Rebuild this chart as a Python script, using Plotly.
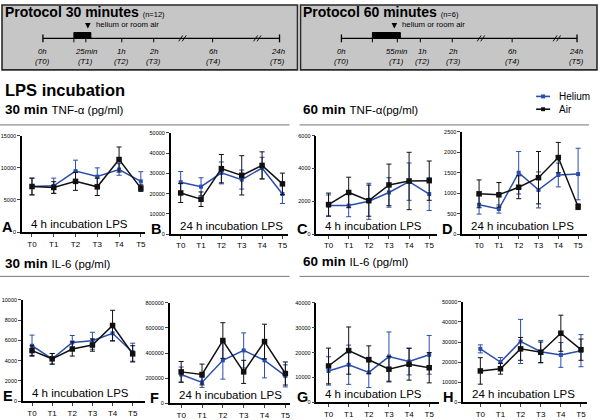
import plotly.graph_objects as go

# ---------------- data ----------------
timepoints = ["T0", "T1", "T2", "T3", "T4", "T5"]

# A: 30 min TNF-a, 4 h incubation
a_helium = [7100, 7200, 9500, 8650, 9750, 7900]
a_helium_err = [1300, 1200, 1700, 1350, 900, 1500]
a_air = [7100, 6950, 7900, 7050, 11300, 6850]
a_air_err = [1300, 900, 1400, 1350, 1950, 500]

# B: 30 min TNF-a, 24 h incubation
b_helium = [25600, 23400, 30200, 26900, 32600, 19800]
b_helium_err = [5300, 4400, 5400, 4700, 5300, 4700]
b_air = [20300, 17200, 32300, 29000, 33900, 24800]
b_air_err = [4700, 3600, 7000, 9700, 6700, 5300]

# C: 60 min TNF-a, 4 h incubation
c_helium = [1740, 1740, 2000, 2540, 3200, 2440]
c_helium_err = [650, 680, 1100, 900, 1140, 1000]
c_air = [1800, 2540, 2040, 3000, 3240, 3260]
c_air_err = [700, 930, 950, 1270, 1750, 1200]

# D: 60 min TNF-a, 24 h incubation
d_helium = [718, 613, 1500, 1080, 1444, 1468]
d_helium_err = [230, 100, 520, 440, 290, 630]
d_air = [984, 960, 1145, 1379, 1871, 669]
d_air_err = [340, 300, 280, 640, 370, 70]

# E: 30 min IL-6, 4 h incubation
e_helium = [5480, 4190, 5810, 5970, 6710, 4840]
e_helium_err = [1050, 530, 680, 840, 770, 890]
e_air = [5000, 4190, 5160, 5550, 7480, 4680]
e_air_err = [480, 520, 700, 610, 1500, 800]

# F: 30 min IL-6, 24 h incubation
f_helium = [229000, 166000, 342000, 421000, 342000, 218000]
f_helium_err = [60000, 40000, 150000, 140000, 140000, 88000]
f_air = [250000, 229000, 500000, 250000, 492000, 237000]
f_air_err = [83000, 83000, 142000, 92000, 138000, 92000]

# G: 60 min IL-6, 4 h incubation
g_helium = [12600, 15100, 12000, 18400, 16400, 19100]
g_helium_err = [5700, 7900, 6100, 9900, 5400, 7800]
g_air = [14600, 20800, 17100, 13300, 15300, 13900]
g_air_err = [7200, 9500, 5600, 5100, 6400, 6100]

# H: 60 min IL-6, 24 h incubation
h_helium = [26600, 20000, 30300, 25200, 23600, 25700]
h_helium_err = [2000, 2300, 11000, 5600, 6200, 8000]
h_air = [15600, 16700, 26600, 24900, 34400, 26200]
h_air_err = [6600, 2700, 5700, 5100, 9000, 5300]

panel_letters = ["A", "B", "C", "D", "E", "F", "G", "H"]
panel_caption = ["4 h incubation LPS", "24 h incubation LPS"] * 4
y_max = [15000, 50000, 6000, 2500, 10000, 800000, 40000, 50000]
y_step = [5000, 10000, 2000, 500, 2000, 200000, 10000, 10000]

series = [
    (a_helium, a_helium_err, a_air, a_air_err),
    (b_helium, b_helium_err, b_air, b_air_err),
    (c_helium, c_helium_err, c_air, c_air_err),
    (d_helium, d_helium_err, d_air, d_air_err),
    (e_helium, e_helium_err, e_air, e_air_err),
    (f_helium, f_helium_err, f_air, f_air_err),
    (g_helium, g_helium_err, g_air, g_air_err),
    (h_helium, h_helium_err, h_air, h_air_err),
]

# ---------------- layout helpers ----------------
W, H = 600, 420
FONT = "Liberation Sans, Arial, Helvetica, sans-serif"
BLUE = "#2a4db0"
BLACK = "#111111"


def px(x):
    return x / W


def py(y):
    return 1 - y / H


# panel boxes in pixels: (x0, x1, ytop, ybottom)
panel_px = [
    (22, 145, 135, 233),
    (171, 288, 132, 235),
    (317, 438, 135, 235),
    (463, 588, 131, 235),
    (23, 145, 302, 405),
    (170, 290, 305, 407),
    (317, 440, 305, 406),
    (464, 588, 304, 406),
]
x_ranges = [
    [-0.46, 5.18], [-0.49, 5.25], [-0.6, 5.4], [-0.85, 5.45],
    [-0.45, 5.6], [-0.55, 5.2], [-0.6, 5.5], [-0.85, 5.3],
]

fig = go.Figure()
layout = dict(
    width=W, height=H,
    margin=dict(l=0, r=0, t=0, b=0),
    paper_bgcolor="white", plot_bgcolor="rgba(0,0,0,0)",
    showlegend=False,
    font=dict(family=FONT, color="black"),
)
annotations = []
shapes = []

xs = list(range(len(timepoints)))
for i, (he, he_err, air, air_err) in enumerate(series):
    k = "" if i == 0 else str(i + 1)
    xa, ya = "x" + k, "y" + k
    fig.add_trace(go.Scatter(
        x=xs, y=he, xaxis=xa, yaxis=ya, mode="lines+markers", name="Helium",
        line=dict(color=BLUE, width=1.5),
        marker=dict(symbol="square", size=4, color=BLUE),
        error_y=dict(type="data", array=he_err, color=BLUE, thickness=1, width=2.5),
        cliponaxis=False,
    ))
    fig.add_trace(go.Scatter(
        x=xs, y=air, xaxis=xa, yaxis=ya, mode="lines+markers", name="Air",
        line=dict(color=BLACK, width=1.5),
        marker=dict(symbol="square", size=5.5, color=BLACK),
        error_y=dict(type="data", array=air_err, color=BLACK, thickness=1, width=2.5),
        cliponaxis=False,
    ))
    x0, x1, yt, yb = panel_px[i]
    layout["xaxis" + k] = dict(
        domain=[px(x0), px(x1)], anchor=ya, range=x_ranges[i],
        tickvals=xs, ticktext=timepoints, ticks="outside", ticklen=3, tickwidth=1,
        showline=True, linewidth=1.6, linecolor="black", showgrid=False, zeroline=False,
        tickfont=dict(size=8, family=FONT), fixedrange=True,
    )
    layout["yaxis" + k] = dict(
        domain=[py(yb), py(yt)], anchor=xa, range=[0, y_max[i]],
        dtick=y_step[i], tick0=0, tickformat="d", ticks="outside", ticklen=3, tickwidth=1,
        showline=True, linewidth=1.6, linecolor="black", showgrid=False, zeroline=False,
        tickfont=dict(size=5.5, family=FONT), fixedrange=True,
    )
    # panel letter
    annotations.append(dict(
        x=px(x0 - 22), y=py(yb - 5), xref="paper", yref="paper", xanchor="left", yanchor="middle",
        text="<b>%s</b>" % panel_letters[i], showarrow=False, font=dict(size=14.5, family=FONT),
    ))
    # caption
    annotations.append(dict(
        x=px(x0 + 7), y=py(yb - 8), xref="paper", yref="paper", xanchor="left", yanchor="middle",
        text=panel_caption[i], showarrow=False, font=dict(size=11.5, family=FONT),
    ))

# ---------------- protocol boxes ----------------
protocols = [
    dict(box=(2, 298), title="Protocol 30 minutes", n="(n=12)", title_x=3,
         line=(43, 280), small=[74, 86, 122, 154, 213], rect=(74, 91), breaks=[183, 258],
         arrow_x=88,
         labels=[("0h", "(T0)", 43), ("25min", "(T1)", 86), ("1h", "(T2)", 122),
                 ("2h", "(T3)", 154), ("6h", "(T4)", 214), ("24h", "(T5)", 278)]),
    dict(box=(301, 598), title="Protocol 60 minutes", n="(n=6)", title_x=302,
         line=(342, 578), small=[373, 398, 421, 453, 513], rect=(373, 401), breaks=[482, 558],
         arrow_x=395,
         labels=[("0h", "(T0)", 342), ("55min", "(T1)", 397), ("1h", "(T2)", 423),
                 ("2h", "(T3)", 454), ("6h", "(T4)", 513), ("24h", "(T5)", 577)]),
]
TL = 36
for p in protocols:
    bx0, bx1 = p["box"]
    shapes.append(dict(type="rect", xref="paper", yref="paper", x0=px(bx0), x1=px(bx1),
                       y0=py(68), y1=py(2), fillcolor="#c6c6c6",
                       line=dict(color="#2a2a2a", width=1.6), layer="below"))
    l0, l1 = p["line"]
    shapes.append(dict(type="line", xref="paper", yref="paper", x0=px(l0), x1=px(l1),
                       y0=py(TL), y1=py(TL), line=dict(color="black", width=1.3)))
    for e in (l0, l1):
        shapes.append(dict(type="line", xref="paper", yref="paper", x0=px(e), x1=px(e),
                           y0=py(32), y1=py(40), line=dict(color="black", width=1.3)))
    for s in p["small"]:
        shapes.append(dict(type="line", xref="paper", yref="paper", x0=px(s), x1=px(s),
                           y0=py(TL), y1=py(40), line=dict(color="black", width=1)))
    r0, r1 = p["rect"]
    shapes.append(dict(type="rect", xref="paper", yref="paper", x0=px(r0), x1=px(r1),
                       y0=py(TL), y1=py(30), fillcolor="black", line=dict(color="black", width=1)))
    for b in p["breaks"]:
        for dx in (-2, 1.5):
            shapes.append(dict(type="line", xref="paper", yref="paper",
                               x0=px(b + dx - 2), x1=px(b + dx + 2), y0=py(39), y1=py(33),
                               line=dict(color="black", width=0.9)))
    annotations.append(dict(
        x=px(p["title_x"]), y=py(9), xref="paper", yref="paper", xanchor="left", yanchor="middle",
        text="<b>%s</b> <span style='font-size:7.5px'>%s</span>" % (p["title"], p["n"]),
        showarrow=False, font=dict(size=14, family=FONT)))
    annotations.append(dict(
        x=px(p["arrow_x"]), y=py(26), xref="paper", yref="paper", ax=0, ay=-7,
        showarrow=True, arrowhead=2, arrowsize=0.8, arrowwidth=1.4, arrowcolor="black", text=""))
    annotations.append(dict(
        x=px(p["arrow_x"] + 6), y=py(22), xref="paper", yref="paper", xanchor="left", yanchor="middle",
        text="helium or room air", showarrow=False, font=dict(size=7.8, family=FONT)))
    for top, bot, lx in p["labels"]:
        annotations.append(dict(x=px(lx), y=py(49), xref="paper", yref="paper", xanchor="center",
                                yanchor="middle", text="<i>%s</i>" % top, showarrow=False,
                                font=dict(size=7.8, family=FONT)))
        annotations.append(dict(x=px(lx), y=py(60), xref="paper", yref="paper", xanchor="center",
                                yanchor="middle", text="<i>%s</i>" % bot, showarrow=False,
                                font=dict(size=7.8, family=FONT)))

# ---------------- section headings ----------------
annotations.append(dict(x=px(3), y=py(88), xref="paper", yref="paper", xanchor="left", yanchor="middle",
                        text="<b>LPS incubation</b>", showarrow=False, font=dict(size=16.5, family=FONT)))
headings = [
    (3, 108, "30 min", "TNF-α (pg/ml)"),
    (302, 108, "60 min", "TNF-α(pg/ml)"),
    (3, 265, "30 min", "IL-6 (pg/ml)"),
    (302, 263, "60 min", "IL-6 (pg/ml)"),
]
for hx, hy, bold, rest in headings:
    annotations.append(dict(x=px(hx), y=py(hy), xref="paper", yref="paper", xanchor="left",
                            yanchor="middle",
                            text="<b>%s</b> <span style='font-size:11.5px'>%s</span>" % (bold, rest),
                            showarrow=False, font=dict(size=13.5, family=FONT)))
for yy in (124, 278):
    for sx0, sx1 in ((0, 290), (300, 590)):
        shapes.append(dict(type="line", xref="paper", yref="paper", x0=px(sx0), x1=px(sx1),
                           y0=py(yy), y1=py(yy), line=dict(color="#777777", width=1)))

# ---------------- legend ----------------
for name, color, ly in (("Helium", BLUE, 95), ("Air", BLACK, 108)):
    shapes.append(dict(type="line", xref="paper", yref="paper", x0=px(537), x1=px(551),
                       y0=py(ly), y1=py(ly), line=dict(color=color, width=1.6)))
    shapes.append(dict(type="rect", xref="paper", yref="paper", x0=px(542), x1=px(546),
                       y0=py(ly + 2), y1=py(ly - 2), fillcolor=color, line=dict(color=color, width=0)))
    annotations.append(dict(x=px(558), y=py(ly), xref="paper", yref="paper", xanchor="left",
                            yanchor="middle", text=name, showarrow=False,
                            font=dict(size=10, family=FONT)))

layout["annotations"] = annotations
layout["shapes"] = shapes
fig.update_layout(**layout)
fig.write_html("out.html", config={"displayModeBar": False},
               post_script="document.body.style.margin='0px';document.body.style.overflow='hidden';")
